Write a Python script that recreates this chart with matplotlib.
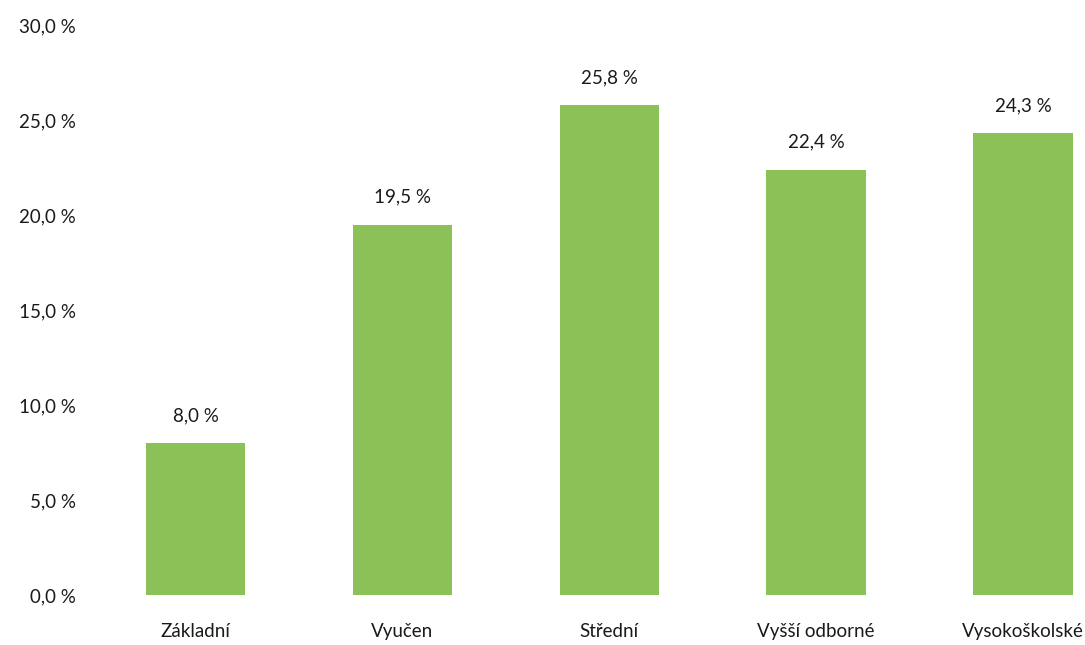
import matplotlib
matplotlib.use("Agg")
import matplotlib.pyplot as plt
from matplotlib.ticker import FuncFormatter

categories = ["Základní", "Vyučen", "Střední", "Vyšší odborné", "Vysokoškolské"]
values = [8.0, 19.5, 25.8, 22.4, 24.3]
yticks = [0, 5, 10, 15, 20, 25, 30]

plt.rcParams["font.family"] = ["Lato", "DejaVu Sans"]

def pct(v):
    return f"{v:.1f} %".replace(".", ",")

fig = plt.figure(figsize=(10.85, 6.45), dpi=100, facecolor="white")
ax = fig.add_axes([0.085, 0.0775, 0.915, 0.8835])
x = range(len(categories))
bars = ax.bar(x, values, width=0.48, color="#8cc158")
for b, v in zip(bars, values):
    ax.text(b.get_x() + b.get_width() / 2, v + 1.0, pct(v),
            ha="center", va="bottom", fontsize=13.5, color="#1a1a1a")

ax.set_xlim(-0.5, 4.3)
ax.set_ylim(0, 30)
ax.set_yticks(yticks)
ax.yaxis.set_major_formatter(FuncFormatter(lambda v, _: pct(v)))
ax.set_xticks(list(x))
ax.set_xticklabels(categories)
ax.tick_params(length=0, labelsize=13.5, colors="#1a1a1a")
ax.tick_params(axis="x", pad=20)
ax.tick_params(axis="y", pad=12)
for s in ax.spines.values():
    s.set_visible(False)

fig.savefig("out.png", dpi=100, facecolor="white")
